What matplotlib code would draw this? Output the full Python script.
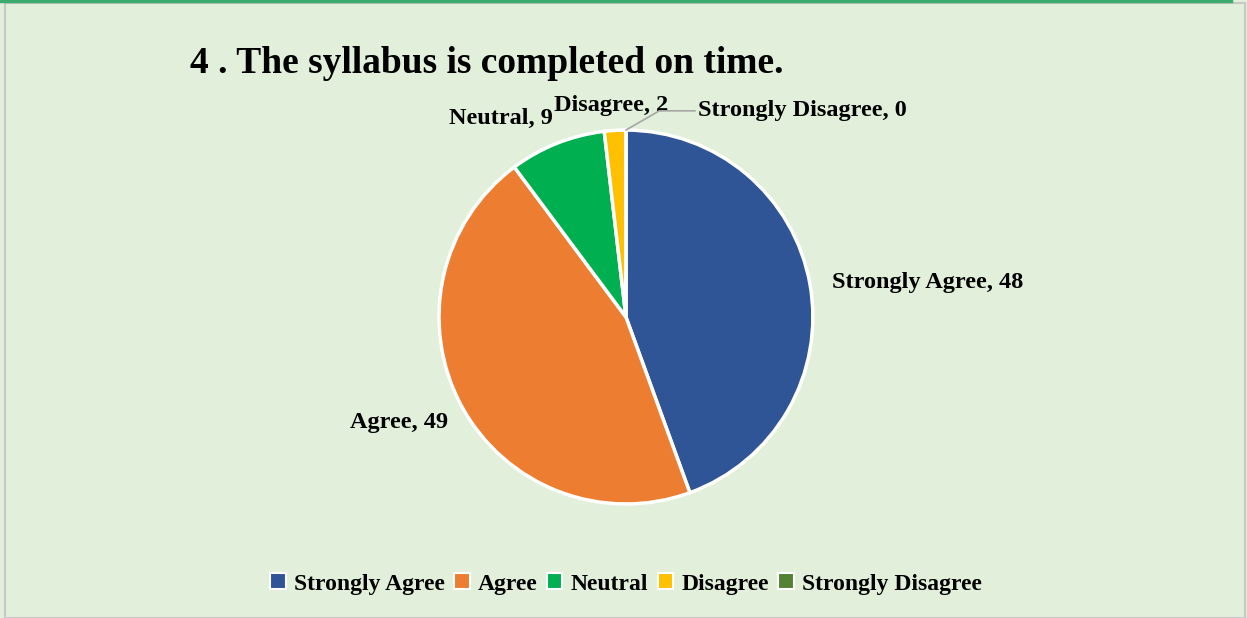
import numpy as np
import matplotlib.pyplot as plt
from matplotlib.lines import Line2D

# --- Survey data ---
categories = ["Strongly Agree", "Agree", "Neutral", "Disagree", "Strongly Disagree"]
counts = [48, 49, 9, 2, 0]
colors = ["#2F5597", "#ED7D31", "#00B050", "#FFC000", "#548235"]
title = "4 . The syllabus is completed on time."

plt.rcParams["font.family"] = ["Liberation Serif", "DejaVu Serif"]
plt.rcParams["font.weight"] = "bold"

bg = "#E2EFDA"
fig = plt.figure(figsize=(12.47, 6.18), dpi=100, facecolor=bg)
fig.patches.append(plt.Rectangle((0.004, 0.0), 0.994, 0.995, transform=fig.transFigure,
                                 facecolor="none", edgecolor="#C8C8C8", lw=1.5))
fig.add_artist(Line2D([0, 0.987], [0.998, 0.998], color="#3DAA6E", lw=2.5))

ax = fig.add_axes([0.352, 0.1845, 0.2999, 0.605])
ax.set_facecolor(bg)
wedges, _ = ax.pie(counts, colors=colors, startangle=90, counterclock=False, radius=1,
                   wedgeprops=dict(edgecolor="white", linewidth=2.5))
ax.set_xlim(-1, 1)
ax.set_ylim(-1, 1)
ax.set_aspect("equal")
ax.axis("off")

# --- Data labels placed by wedge mid-angle ---
lab_kw = dict(fontsize=17.5, fontweight="bold", color="black", va="center")
total = sum(counts)
start = 90.0
mids = []
for c in counts:
    span = 360.0 * c / total
    mids.append(start - span / 2)
    start -= span

# (radius factor, horizontal alignment, dx, dy in points) per label
placement = [(1.12, "left", 0, -1), (1.13, "right", 6, -4), (1.16, "right", 5, -2),
             (1.15, "center", -2, -2), (None, None, 0, 0)]
for cat, c, mid, (r, ha, dx, dy) in zip(categories, counts, mids, placement):
    txt = f"{cat}, {c}"
    a = np.deg2rad(mid)
    if r is None:
        ax.annotate(txt, xy=(np.cos(a), np.sin(a)), xytext=(0.385, 1.103),
                    ha="left", annotation_clip=False,
                    arrowprops=dict(arrowstyle="-", color="#A6A6A6", lw=1.2,
                                    shrinkA=0, shrinkB=0,
                                    connectionstyle="angle,angleA=0,angleB=30,rad=0"),
                    **lab_kw)
    else:
        ax.annotate(txt, xy=(r * np.cos(a), r * np.sin(a)), xytext=(dx, dy),
                    textcoords="offset points", ha=ha, annotation_clip=False, **lab_kw)

fig.text(0.152, 0.897, title, fontsize=27, fontweight="bold", ha="left", va="center")

handles = [plt.Rectangle((0, 0), 1, 1, facecolor=col, edgecolor="white", lw=1.5) for col in colors]
fig.legend(handles, categories, loc="center", bbox_to_anchor=(0.502, 0.055), ncol=5,
           frameon=False, handlelength=0.65, handleheight=0.65,
           handletextpad=0.35, columnspacing=0.4, prop={"weight": "bold", "size": 17})

fig.savefig("out.png", dpi=100, facecolor=bg)
